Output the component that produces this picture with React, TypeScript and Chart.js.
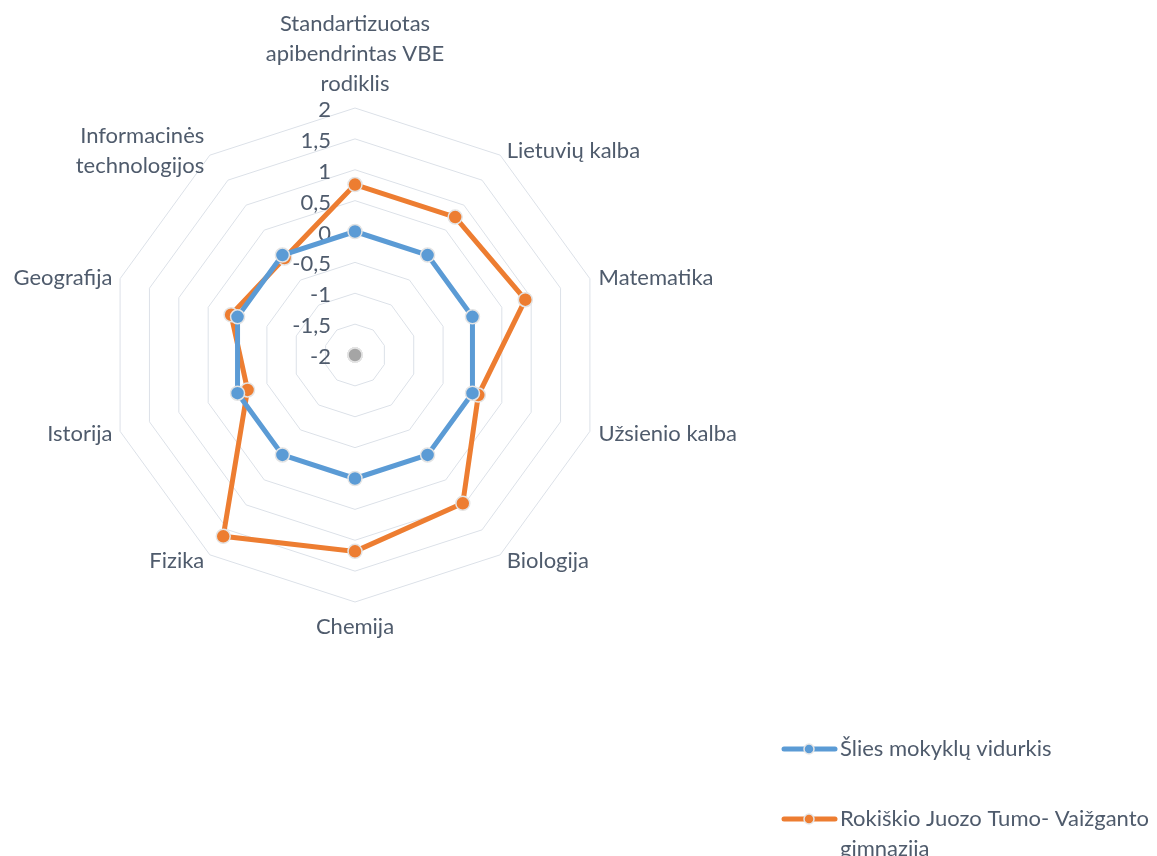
import React, { useEffect, useRef } from 'react';
import { Chart, registerables } from 'chart.js';

Chart.register(...registerables);

const categories: (string | string[])[] = [
  ['Standartizuotas', 'apibendrintas VBE', 'rodiklis'],
  'Lietuvių kalba',
  'Matematika',
  'Užsienio kalba',
  'Biologija',
  'Chemija',
  'Fizika',
  'Istorija',
  'Geografija',
  ['Informacinės', 'technologijos'],
];

const seriesNames = ['Šlies mokyklų vidurkis', 'Rokiškio Juozo Tumo- Vaižganto gimnazija'];
const nationalAverage = [0, 0, 0, 0, 0, 0, 0, 0, 0, 0];
const schoolValues = [0.76, 0.76, 0.9, 0.1, 0.97, 1.18, 1.63, -0.17, 0.11, -0.06];
const baselineValues = [-2, -2, -2, -2, -2, -2, -2, -2, -2, -2];

const tickValues = [-2, -1.5, -1, -0.5, 0, 0.5, 1, 1.5, 2];
const tickLabels = ['-2', '-1,5', '-1', '-0,5', '0', '0,5', '1', '1,5', '2'];

const BLUE = '#5B9BD5';
const ORANGE = '#ED7D31';
const GRAY = '#A5A5A5';
const TEXT = '#4F5B6C';
const FONT_FAMILY = 'Lato, "Open Sans", sans-serif';
const FONT_SIZE = 22;
const LINE_H = 30;

// canvas is a bit larger than the page and shifted up/left
const OFF_X = 9;
const OFF_Y = 24;
const W = 1157;
const H = 856;

// ticks and category labels, Excel-style placement
const textPlugin = {
  id: 'excelText',
  beforeDatasetsDraw(chart: any) {
    const scale = chart.scales.r;
    const ctx = chart.ctx;
    ctx.save();
    ctx.font = `${FONT_SIZE}px ${FONT_FAMILY}`;
    ctx.fillStyle = TEXT;
    ctx.textAlign = 'right';
    ctx.textBaseline = 'middle';
    tickValues.forEach((v, i) => {
      const d = scale.getDistanceFromCenterForValue(v);
      ctx.fillText(tickLabels[i], scale.xCenter - 24, scale.yCenter - d + 2);
    });

    const n = categories.length;
    categories.forEach((lab, i) => {
      const lines = Array.isArray(lab) ? lab : [lab];
      const deg = Math.round((i * 360) / n);
      const pad = deg === 0 ? 10 : deg === 180 ? 9 : 6;
      const p = scale.getPointPosition(i, scale.drawingArea + pad);
      const blockH = lines.length * LINE_H;
      let x = p.x;
      let top: number;
      if (deg === 0) {
        ctx.textAlign = 'center';
        top = p.y - blockH;
      } else if (deg === 180) {
        ctx.textAlign = 'center';
        top = p.y;
      } else if (deg < 180) {
        ctx.textAlign = 'left';
        x += 3;
        top = p.y - blockH / 2;
      } else {
        ctx.textAlign = 'right';
        x -= 2;
        top = p.y - blockH / 2;
      }
      lines.forEach((l, k) => ctx.fillText(l, x, top + k * LINE_H + LINE_H / 2 + 1));
    });
    ctx.restore();
  },
};

const legendPlugin = {
  id: 'sideLegend',
  afterDraw(chart: any) {
    const ctx = chart.ctx;
    const entries = [
      { color: BLUE, lines: [seriesNames[0]], y: 749 },
      { color: ORANGE, lines: ['Rokiškio Juozo Tumo- Vaižganto', 'gimnazija'], y: 819 },
    ];
    ctx.save();
    ctx.translate(OFF_X, OFF_Y);
    entries.forEach((e) => {
      ctx.strokeStyle = e.color;
      ctx.lineWidth = 5;
      ctx.lineCap = 'round';
      ctx.beginPath();
      ctx.moveTo(784, e.y);
      ctx.lineTo(835, e.y);
      ctx.stroke();
      ctx.beginPath();
      ctx.arc(809, e.y, 5, 0, Math.PI * 2);
      ctx.fillStyle = e.color;
      ctx.fill();
      ctx.lineWidth = 1.5;
      ctx.strokeStyle = '#E6E6E6';
      ctx.stroke();
      ctx.font = `${FONT_SIZE}px ${FONT_FAMILY}`;
      ctx.fillStyle = TEXT;
      ctx.textAlign = 'left';
      ctx.textBaseline = 'middle';
      e.lines.forEach((l, i) => ctx.fillText(l, 840, e.y + i * LINE_H));
    });
    ctx.restore();
  },
};

function seriesStyle(color: string) {
  return {
    borderColor: color,
    backgroundColor: color,
    borderWidth: 5,
    pointRadius: 7,
    pointBorderWidth: 1.5,
    pointBorderColor: '#E4E4E4',
    pointBackgroundColor: color,
    fill: false,
  };
}

export default function App() {
  const ref = useRef<HTMLCanvasElement>(null);
  useEffect(() => {
    if (!ref.current) return;
    const chart = new Chart(ref.current, {
      type: 'radar',
      data: {
        labels: categories,
        datasets: [
          { label: seriesNames[0], data: nationalAverage, ...seriesStyle(BLUE) },
          { label: seriesNames[1], data: schoolValues, ...seriesStyle(ORANGE) },
          { label: 'baseline', data: baselineValues, ...seriesStyle(GRAY) },
        ],
      },
      options: {
        responsive: false,
        animation: false,
        layout: { padding: { left: 0, top: 0, right: 396, bottom: 185 } },
        plugins: {
          legend: { display: false },
          tooltip: { enabled: false },
        },
        scales: {
          r: {
            min: -2,
            max: 2,
            ticks: { stepSize: 0.5, display: false },
            grid: { color: '#DCE1E8', lineWidth: 1 },
            angleLines: { display: false },
            pointLabels: {
              // used for layout fitting; the visible labels are drawn by excelText
              color: 'rgba(0,0,0,0)',
              font: { family: FONT_FAMILY, size: FONT_SIZE, lineHeight: LINE_H / FONT_SIZE },
              padding: (c: any) => (c.index === 0 ? 10 : 6),
            },
          },
        },
      },
      plugins: [textPlugin, legendPlugin],
    });
    return () => chart.destroy();
  }, []);
  return (
    <div style={{ position: 'absolute', left: 0, top: 0, width: W, height: H, overflow: 'hidden', background: '#fff' }}>
      <canvas
        ref={ref}
        width={W + OFF_X}
        height={H + OFF_Y}
        style={{ position: 'absolute', left: -OFF_X, top: -OFF_Y, display: 'block' }}
      />
    </div>
  );
}
